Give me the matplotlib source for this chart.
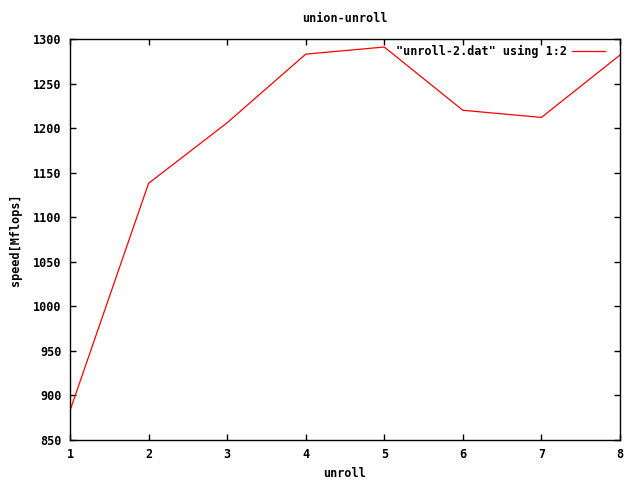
import matplotlib
matplotlib.use("Agg")
import matplotlib.pyplot as plt

# data
unroll = [1, 2, 3, 4, 5, 6, 7, 8]
speed = [883, 1138, 1206, 1283, 1291, 1220, 1212, 1282]
yticks = [850, 900, 950, 1000, 1050, 1100, 1150, 1200, 1250, 1300]

plt.rcParams['font.family'] = 'DejaVu Sans Mono'
plt.rcParams['font.weight'] = 'bold'
plt.rcParams['font.size'] = 8.5

fig = plt.figure(figsize=(6.4, 4.8), dpi=100)
ax = fig.add_axes([70 / 640, 1 - 440 / 480, 550 / 640, 401 / 480])

ax.plot(unroll, speed, color='red', lw=0.9, label='"unroll-2.dat" using 1:2')
ax.set_xlim(1, 8)
ax.set_ylim(850, 1300)
ax.set_xticks(unroll)
ax.set_yticks(yticks)
ax.tick_params(direction='in', top=True, right=True, length=4.5, width=1, pad=6)
for s in ax.spines.values():
    s.set_linewidth(1)

ax.set_title('union-unroll', fontsize=8.5, fontweight='bold', pad=12)
ax.set_xlabel('unroll', fontweight='bold', labelpad=4)
ax.set_ylabel('speed[Mflops]', fontweight='bold', labelpad=8)

leg = ax.legend(loc='upper right', frameon=False, handlelength=2.8, handletextpad=0.45,
                borderaxespad=0.0, markerfirst=False,
                bbox_to_anchor=(1 - 10 / 550, 1 - 1 / 401))

fig.savefig('out.png', dpi=100)
